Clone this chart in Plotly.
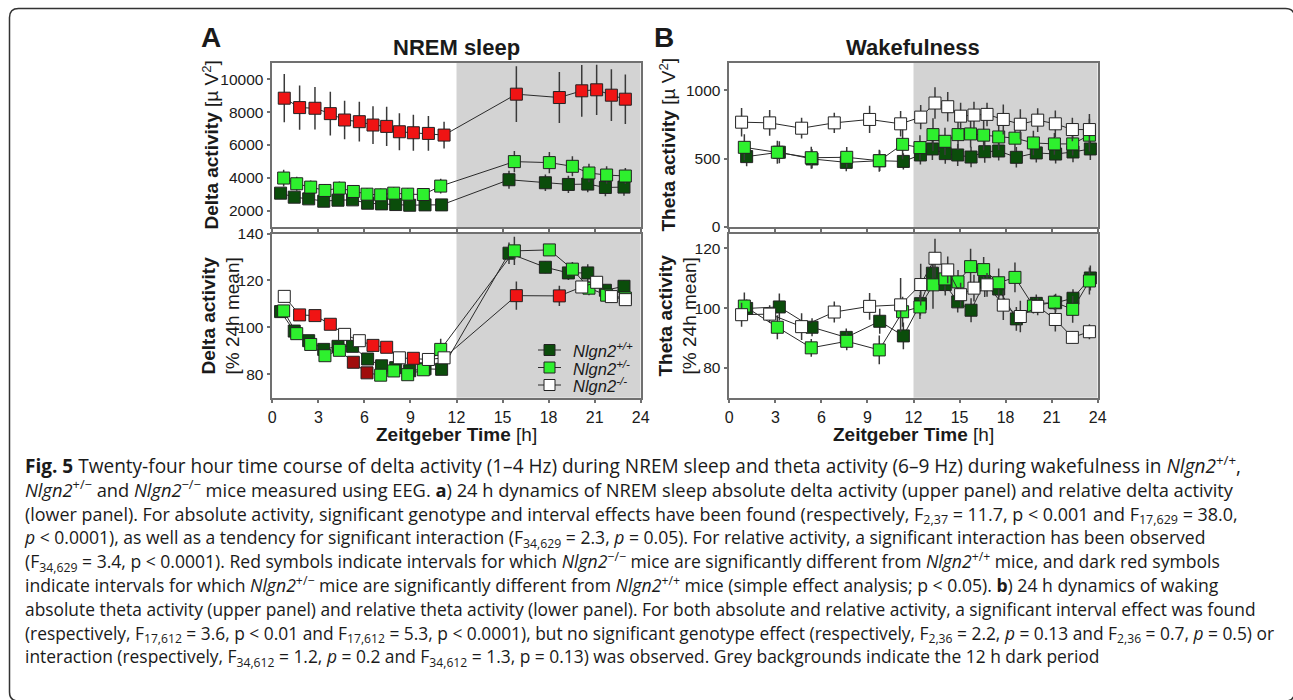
import plotly.graph_objects as go

W, H = 1293, 700

# ---------------- data ----------------
x_ticks = [0, 3, 6, 9, 12, 15, 18, 21, 24]

# Panel A upper: NREM absolute delta activity [uV^2]
a_abs_wt_t = [0.54, 1.43, 2.37, 3.35, 4.28, 5.23, 6.21, 7.12, 8.04, 8.95, 9.95, 11.03, 15.42, 17.79, 19.29, 20.55, 21.70, 22.91]
a_abs_wt_v = [3064, 2818, 2716, 2573, 2634, 2655, 2450, 2409, 2368, 2327, 2348, 2348, 3882, 3698, 3596, 3616, 3412, 3432]
a_abs_wt_e = [300, 280, 270, 260, 270, 280, 250, 250, 240, 240, 240, 230, 550, 510, 530, 500, 530, 520]
a_abs_het_t = [0.74, 1.59, 2.50, 3.43, 4.37, 5.28, 6.17, 7.06, 7.91, 8.82, 9.84, 10.97, 15.77, 18.05, 19.55, 20.63, 21.78, 23.00]
a_abs_het_v = [3985, 3637, 3432, 3228, 3371, 3166, 3002, 2962, 3064, 3002, 2982, 3494, 4987, 4926, 4701, 4292, 4169, 4108]
a_abs_het_e = [510, 430, 410, 400, 410, 400, 380, 380, 380, 380, 380, 450, 650, 650, 610, 570, 530, 490]
a_abs_ko_t = [0.78, 1.78, 2.78, 3.78, 4.71, 5.67, 6.56, 7.45, 8.28, 9.19, 10.17, 11.19, 15.90, 18.70, 20.16, 21.13, 22.09, 23.00]
a_abs_ko_v = [8854, 8281, 8240, 7913, 7524, 7422, 7217, 7135, 6808, 6747, 6706, 6604, 9100, 8895, 9304, 9366, 9038, 8793]
a_abs_ko_e = [1470, 1350, 1290, 1330, 1170, 1210, 1150, 1190, 1130, 1100, 1060, 820, 1700, 1560, 1580, 1530, 1580, 1510]
a_abs_ko_sig = [1, 1, 1, 1, 1, 1, 1, 1, 1, 1, 1, 1, 1, 1, 1, 1, 1, 1]

# Panel A lower: NREM relative delta activity [% 24h mean]
a_rel_wt_v = [106.7, 98.4, 94.3, 90.6, 91.9, 91.9, 86.5, 83.6, 82.8, 81.5, 82.3, 82.1, 131.6, 125.6, 123.2, 123.2, 115.8, 117.5]
a_rel_wt_e = [2.0, 1.8, 1.8, 1.8, 1.8, 1.8, 1.8, 1.8, 1.8, 1.8, 1.8, 1.8, 4.6, 2.5, 3.0, 3.7, 2.5, 2.5]
a_rel_het_v = [107.0, 97.3, 92.7, 87.9, 90.2, 85.1, 80.6, 79.6, 81.4, 79.8, 81.9, 90.6, 132.6, 133.0, 124.8, 116.7, 113.7, 112.5]
a_rel_het_e = [2.2, 2.0, 2.0, 2.0, 2.0, 2.0, 1.8, 1.8, 1.8, 1.8, 1.8, 4.5, 6.0, 2.5, 3.0, 3.0, 2.2, 2.2]
a_rel_het_sig = [0, 0, 0, 0, 0, 1, 1, 0, 0, 0, 0, 0, 0, 0, 0, 0, 0, 0]
a_rel_ko_v = [113.2, 105.3, 105.0, 101.3, 97.0, 94.3, 92.3, 91.5, 87.0, 86.8, 86.3, 87.0, 113.5, 113.4, 117.2, 119.2, 113.1, 111.8]
a_rel_ko_e = [2.5, 1.5, 1.5, 1.8, 1.5, 1.5, 1.5, 1.8, 1.5, 1.5, 1.5, 1.5, 6.0, 4.3, 2.5, 2.5, 2.5, 2.5]
a_rel_ko_sig = [0, 1, 1, 1, 0, 0, 1, 1, 0, 1, 0, 0, 1, 1, 0, 0, 0, 0]

# Panel B: wakefulness theta activity
b_wt_t = [1.13, 3.26, 5.39, 7.62, 9.80, 11.34, 12.45, 13.23, 14.07, 14.88, 15.75, 16.64, 17.55, 18.70, 20.00, 21.26, 22.39, 23.52]
b_het_t = [0.98, 3.13, 5.34, 7.65, 9.77, 11.29, 12.42, 13.27, 14.05, 14.90, 15.72, 16.57, 17.55, 18.61, 19.81, 21.18, 22.37, 23.46]
b_ko_t = [0.80, 2.63, 4.71, 6.84, 9.14, 11.16, 12.47, 13.40, 14.23, 15.07, 15.94, 16.79, 17.85, 18.96, 20.09, 21.24, 22.35, 23.46]

b_abs_wt_v = [515, 547, 498, 473, 485, 480, 527, 571, 537, 527, 512, 551, 556, 510, 542, 534, 549, 571]
b_abs_wt_e = [70, 80, 70, 65, 75, 60, 70, 80, 75, 80, 75, 80, 70, 75, 70, 70, 75, 80]
b_abs_het_v = [583, 547, 507, 510, 485, 605, 581, 676, 627, 676, 681, 672, 659, 650, 615, 608, 608, 672]
b_abs_het_e = [95, 85, 80, 75, 80, 110, 90, 120, 100, 110, 100, 110, 95, 95, 90, 80, 85, 120]
b_abs_ko_v = [767, 762, 723, 762, 787, 755, 804, 907, 880, 811, 819, 824, 787, 752, 782, 755, 713, 713]
b_abs_ko_e = [104, 95, 76, 74, 100, 93, 88, 115, 108, 98, 98, 86, 110, 110, 86, 98, 86, 113]

b_rel_wt_v = [99.9, 100.4, 93.6, 90.2, 95.6, 90.7, 101.5, 111.7, 107.9, 102.1, 99.3, 108.7, 106.4, 96.4, 101.6, 101.8, 103.3, 110.1]
b_rel_wt_e = [3, 4.5, 3, 3, 4.2, 4.5, 4, 4.5, 3.7, 3.6, 4, 5, 4, 4, 3, 3, 3, 4.2]
b_rel_het_v = [100.7, 93.6, 86.7, 88.9, 86.0, 98.8, 100.4, 107.8, 109.8, 108.8, 113.9, 112.9, 108.5, 110.3, 100.7, 102.0, 99.6, 109.1]
b_rel_het_e = [4.5, 4, 3, 3, 4.8, 5, 4, 8, 4.2, 4, 6, 4.2, 4.8, 5, 2.5, 2.5, 4.5, 4.5]
b_rel_ko_v = [97.8, 98.0, 93.8, 98.7, 100.6, 101.1, 107.9, 116.7, 112.8, 104.5, 106.7, 107.8, 101.0, 97.2, 100.6, 96.2, 90.2, 92.1]
b_rel_ko_e = [4, 3, 4.5, 3.5, 4.5, 9, 7, 6.5, 4.5, 4, 4.5, 4, 5, 5.3, 3, 4, 2, 2.5]

genotype_names = ["<i>Nlgn2<sup>+/+</sup></i>", "<i>Nlgn2<sup>+/-</sup></i>", "<i>Nlgn2<sup>-/-</sup></i>"]

caption_lines = [
    "<b>Fig. 5</b> Twenty-four hour time course of delta activity (1–4 Hz) during NREM sleep and theta activity (6–9 Hz) during wakefulness in <i>Nlgn2</i><sup>+/+</sup>,",
    "<i>Nlgn2</i><sup>+/−</sup> and <i>Nlgn2</i><sup>−/−</sup> mice measured using EEG. <b>a</b>) 24 h dynamics of NREM sleep absolute delta activity (upper panel) and relative delta activity",
    "(lower panel). For absolute activity, significant genotype and interval effects have been found (respectively, F<sub>2,37</sub> = 11.7, p < 0.001 and F<sub>17,629</sub> = 38.0,",
    "<i>p</i> < 0.0001), as well as a tendency for significant interaction (F<sub>34,629</sub> = 2.3, <i>p</i> = 0.05). For relative activity, a significant interaction has been observed",
    "(F<sub>34,629</sub> = 3.4, p < 0.0001). Red symbols indicate intervals for which <i>Nlgn2</i><sup>−/−</sup> mice are significantly different from <i>Nlgn2</i><sup>+/+</sup> mice, and dark red symbols",
    "indicate intervals for which <i>Nlgn2</i><sup>+/−</sup> mice are significantly different from <i>Nlgn2</i><sup>+/+</sup> mice (simple effect analysis; p < 0.05). <b>b</b>) 24 h dynamics of waking",
    "absolute theta activity (upper panel) and relative theta activity (lower panel). For both absolute and relative activity, a significant interval effect was found",
    "(respectively, F<sub>17,612</sub> = 3.6, p < 0.01 and F<sub>17,612</sub> = 5.3, p < 0.0001), but no significant genotype effect (respectively, F<sub>2,36</sub> = 2.2, <i>p</i> = 0.13 and F<sub>2,36</sub> = 0.7, <i>p</i> = 0.5) or",
    "interaction (respectively, F<sub>34,612</sub> = 1.2, <i>p</i> = 0.2 and F<sub>34,612</sub> = 1.3, p = 0.13) was observed. Grey backgrounds indicate the 12 h dark period",
]

# ---------------- style ----------------
C_WT = "#0b4d0b"
C_HET = "#2ef02e"
C_KO = "#ffffff"
C_SIG_KO = "#f01414"
C_SIG_HET = "#a00c0c"
AX = "#707070"
TXT = "#1a1a1a"
FONT = "Liberation Sans"
CAP_FONT = "Open Sans"
caption_sizes = [19.05, 18.29, 17.92, 17.56, 17.56, 17.61, 17.36, 17.38, 17.4]
CAP_BASE = 18.3  # 23.8 px line pitch
FRAME_COLOR = "#333333"


def px(x):
    return x / W


def py(y):
    return 1 - y / H


fig = go.Figure()


def add_series(t, v, e, colors, xa, ya, name):
    fig.add_trace(go.Scatter(
        x=t, y=v, mode="lines+markers", name=name, showlegend=False,
        xaxis=xa, yaxis=ya,
        line=dict(color="#2a2a2a", width=1),
        marker=dict(symbol="square", size=12, color=colors,
                    line=dict(color="#222222", width=1)),
        error_y=dict(type="data", array=e, visible=True, width=0,
                     thickness=1.5, color="#3a3a3a"),
    ))


def flag_colors(flags, on, off):
    return [on if f else off for f in flags]


# Panel A upper
add_series(a_abs_wt_t, a_abs_wt_v, a_abs_wt_e, C_WT, "x", "y", genotype_names[0])
add_series(a_abs_het_t, a_abs_het_v, a_abs_het_e, C_HET, "x", "y", genotype_names[1])
add_series(a_abs_ko_t, a_abs_ko_v, a_abs_ko_e, flag_colors(a_abs_ko_sig, C_SIG_KO, C_KO), "x", "y", genotype_names[2])
# Panel A lower
add_series(a_abs_wt_t, a_rel_wt_v, a_rel_wt_e, C_WT, "x2", "y2", genotype_names[0])
add_series(a_abs_het_t, a_rel_het_v, a_rel_het_e, flag_colors(a_rel_het_sig, C_SIG_HET, C_HET), "x2", "y2", genotype_names[1])
add_series(a_abs_ko_t, a_rel_ko_v, a_rel_ko_e, flag_colors(a_rel_ko_sig, C_SIG_KO, C_KO), "x2", "y2", genotype_names[2])
# Panel B upper
add_series(b_wt_t, b_abs_wt_v, b_abs_wt_e, C_WT, "x3", "y3", genotype_names[0])
add_series(b_het_t, b_abs_het_v, b_abs_het_e, C_HET, "x3", "y3", genotype_names[1])
add_series(b_ko_t, b_abs_ko_v, b_abs_ko_e, C_KO, "x3", "y3", genotype_names[2])
# Panel B lower
add_series(b_wt_t, b_rel_wt_v, b_rel_wt_e, C_WT, "x4", "y4", genotype_names[0])
add_series(b_het_t, b_rel_het_v, b_rel_het_e, C_HET, "x4", "y4", genotype_names[1])
add_series(b_ko_t, b_rel_ko_v, b_rel_ko_e, C_KO, "x4", "y4", genotype_names[2])

xdom_a = [px(272.3), px(640.7)]
xdom_b = [px(729.3), px(1097.7)]
ydom_top = [py(227.0), py(63.0)]
ydom_bot = [py(397.7), py(233.5)]

common_x = dict(range=[0, 24], tickvals=x_ticks, ticks="outside", ticklen=4, tickwidth=1.5,
                tickcolor=AX, showline=True, linecolor=AX, linewidth=1.5, mirror=True,
                showgrid=False, zeroline=False, automargin=False,
                tickfont=dict(family=FONT, size=16, color=TXT))
common_y = dict(ticks="outside", ticklen=4, tickwidth=1.5, tickcolor=AX, showline=True,
                linecolor=AX, linewidth=1.5, mirror=True, showgrid=False, zeroline=False,
                automargin=False, tickformat="d", tickfont=dict(family=FONT, size=15.5, color=TXT))

fig.update_layout(
    width=W, height=H, autosize=False,
    margin=dict(l=0, r=0, t=0, b=0, pad=0, autoexpand=False),
    paper_bgcolor="white", plot_bgcolor="white",
    font=dict(family=FONT, color=TXT),
    showlegend=False,
    xaxis=dict(domain=xdom_a, anchor="y", showticklabels=False, **common_x),
    yaxis=dict(domain=ydom_top, anchor="x", range=[1000, 11000], tickvals=[2000, 4000, 6000, 8000, 10000], **common_y),
    xaxis2=dict(domain=xdom_a, anchor="y2", **common_x),
    yaxis2=dict(domain=ydom_bot, anchor="x2", range=[70, 140], tickvals=[80, 100, 120, 140], **common_y),
    xaxis3=dict(domain=xdom_b, anchor="y3", showticklabels=False, **common_x),
    yaxis3=dict(domain=ydom_top, anchor="x3", range=[0, 1200], tickvals=[0, 500, 1000], **common_y),
    xaxis4=dict(domain=xdom_b, anchor="y4", **common_x),
    yaxis4=dict(domain=ydom_bot, anchor="x4", range=[70, 125], tickvals=[80, 100, 120], **common_y),
)

# dark-period backgrounds
for xa in ["x", "x2", "x3", "x4"]:
    fig.add_shape(type="rect", xref=xa, yref=f"{'y' + xa[1:]} domain", x0=12, x1=24, y0=0, y1=1,
                  fillcolor="#d3d3d3", line=dict(width=0), layer="below")

# outer frame (right and bottom edges lie just beyond the picture edge)
L, T, R, B, r = 9.5, 8.5, 1294.5, 701.0, 9
pts = [
    f"M {px(L)},{py(T + r)}",
    f"Q {px(L)},{py(T)} {px(L + r)},{py(T)}",
    f"L {px(R - r)},{py(T)}",
    f"Q {px(R)},{py(T)} {px(R)},{py(T + r)}",
    f"L {px(R)},{py(B - r)}",
    f"Q {px(R)},{py(B)} {px(R - r)},{py(B)}",
    f"L {px(L + r)},{py(B)}",
    f"Q {px(L)},{py(B)} {px(L)},{py(B - r)}",
    "Z",
]
fig.add_shape(type="path", xref="paper", yref="paper", path=" ".join(pts),
              line=dict(color=FRAME_COLOR, width=1.5), fillcolor="rgba(0,0,0,0)")

# legend keys (lower panel A)
legend_fill = [C_WT, C_HET, C_KO]
legend_rows = [350, 367.5, 385]
for fill, yrow in zip(legend_fill, legend_rows):
    fig.add_shape(type="line", xref="paper", yref="paper",
                  x0=px(538), x1=px(561), y0=py(yrow), y1=py(yrow),
                  line=dict(color="#2a2a2a", width=1))
    fig.add_shape(type="rect", xref="paper", yref="paper",
                  x0=px(544), x1=px(555), y0=py(yrow + 5.5), y1=py(yrow - 5.5),
                  fillcolor=fill, line=dict(color="#222222", width=1))

ann = []


def note(text, x, y, size, angle=0, xanchor="center", yanchor="middle", family=FONT, align="center"):
    ann.append(dict(text=text, x=px(x), y=py(y), xref="paper", yref="paper",
                    showarrow=False, textangle=angle, xanchor=xanchor, yanchor=yanchor,
                    font=dict(family=family, size=size, color=TXT), align=align))


for name, yrow in zip(genotype_names, legend_rows):
    note(name, 571, yrow, 16.5, xanchor="left")

note("<b>A</b>", 211, 38, 28)
note("<b>B</b>", 664, 38, 28)
note("<b>NREM sleep</b>", 456.5, 47, 22)
note("<b>Wakefulness</b>", 913.5, 47, 22)
note("<b>Delta activity</b> [µ V<sup>2</sup>]", 210.5, 145, 19, angle=-90)
note("<b>Delta activity</b><br>[% 24h mean]", 220, 315.5, 19, angle=-90)
note("<b>Theta activity</b> [µ V<sup>2</sup>]", 667.5, 145, 19, angle=-90)
note("<b>Theta activity</b><br>[% 24h mean]", 677, 315.5, 19, angle=-90)
note("<b>Zeitgeber Time</b> [h]", 456.5, 434, 19)
note("<b>Zeitgeber Time</b> [h]", 913.5, 434, 19)

caption_html = "<br>".join(
    f"<span style='font-size:{s}px'>{line}</span>" for line, s in zip(caption_lines, caption_sizes)
)
note(caption_html, 22, 466 + 4 * 23.8, CAP_BASE, xanchor="left", family=CAP_FONT, align="left")

fig.update_layout(annotations=ann)

fig.write_html("out.html")
